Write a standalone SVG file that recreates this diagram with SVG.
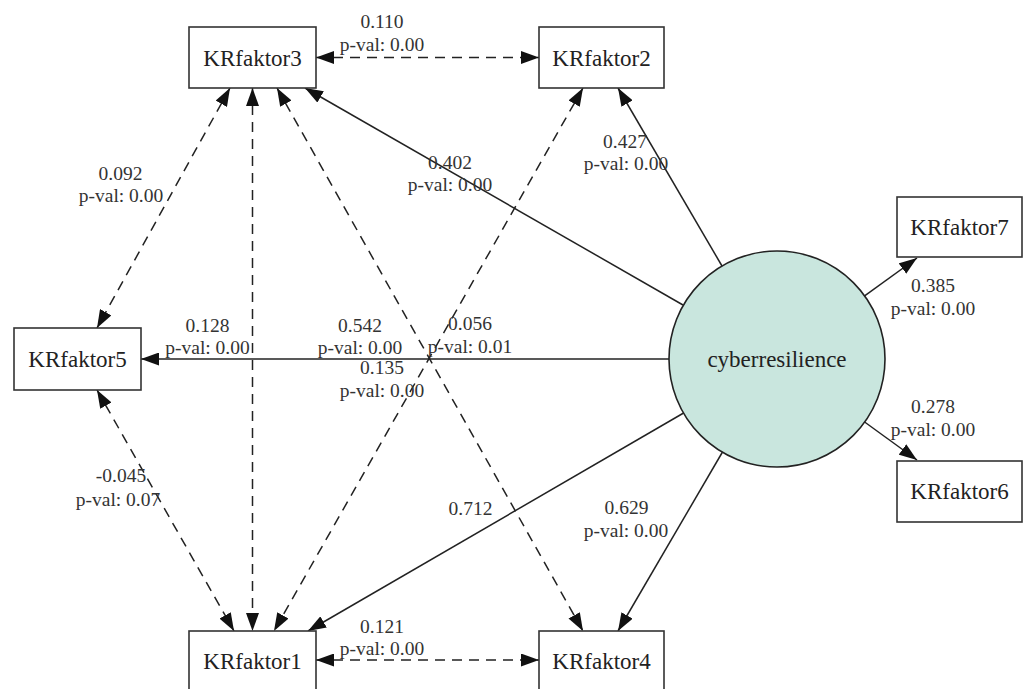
<svg xmlns="http://www.w3.org/2000/svg" width="1024" height="689" viewBox="0 0 1024 689">
<defs>
<style>
.box{fill:#fff;stroke:#333;stroke-width:1.6}
.nt{font-family:"Liberation Serif","Times New Roman",serif;font-size:23px;fill:#222;text-anchor:middle}
.lb{font-family:"Liberation Serif","Times New Roman",serif;font-size:19.5px;fill:#333;text-anchor:middle}
.e{fill:none;stroke:#222;stroke-width:1.5}
.d{stroke-dasharray:10 7;marker-start:url(#ah);}
.e{marker-end:url(#ah)}
</style>
<marker id="ah" viewBox="0 0 18 13" markerWidth="18" markerHeight="13" refX="18" refY="6.5" orient="auto-start-reverse" markerUnits="userSpaceOnUse">
<path d="M0,0 L18,6.5 L0,13 z" fill="#111"/>
</marker>
</defs>
<rect width="1024" height="689" fill="#fff"/>
<g id="connectors">
<line class="e" x1="683" y1="305" x2="305" y2="88"/>
<line class="e" x1="722" y1="266" x2="618" y2="88"/>
<line class="e" x1="669" y1="359" x2="141" y2="359"/>
<line class="e" x1="683.6" y1="413" x2="308" y2="631"/>
<line class="e" x1="722.5" y1="452" x2="618" y2="631"/>
<line class="e" x1="864.6" y1="295.8" x2="917" y2="258"/>
<line class="e" x1="864.6" y1="422" x2="917" y2="460"/>
<line class="e d" x1="316" y1="57.5" x2="539" y2="57.5"/>
<line class="e d" x1="316" y1="660" x2="539" y2="660"/>
<line class="e d" x1="230" y1="88" x2="97" y2="328"/>
<line class="e d" x1="97" y1="390" x2="234" y2="631"/>
<line class="e d" x1="252.5" y1="88" x2="252.5" y2="631"/>
<line class="e d" x1="277" y1="88" x2="583" y2="631"/>
<line class="e d" x1="583" y1="88" x2="274" y2="631"/>
</g>
<g id="labels">
<text class="lb" x="382" y="28">0.110</text><text class="lb" x="382" y="51">p-val: 0.00</text>
<text class="lb" x="625" y="148">0.427</text><text class="lb" x="626" y="170">p-val: 0.00</text>
<text class="lb" x="120.5" y="180">0.092</text><text class="lb" x="121" y="202">p-val: 0.00</text>
<text class="lb" x="450" y="168.5">0.402</text><text class="lb" x="450" y="191">p-val: 0.00</text>
<text class="lb" x="207.5" y="332">0.128</text><text class="lb" x="207.5" y="354">p-val: 0.00</text>
<text class="lb" x="360" y="332">0.542</text><text class="lb" x="360" y="354">p-val: 0.00</text>
<text class="lb" x="470" y="330">0.056</text><text class="lb" x="470" y="353">p-val: 0.01</text>
<text class="lb" x="382" y="374">0.135</text><text class="lb" x="382" y="397">p-val: 0.00</text>
<text class="lb" x="121" y="482">-0.045</text><text class="lb" x="118" y="506">p-val: 0.07</text>
<text class="lb" x="470.5" y="515">0.712</text>
<text class="lb" x="626.5" y="514">0.629</text><text class="lb" x="626" y="537">p-val: 0.00</text>
<text class="lb" x="382" y="633">0.121</text><text class="lb" x="382" y="655">p-val: 0.00</text>
<text class="lb" x="933" y="292">0.385</text><text class="lb" x="933" y="315">p-val: 0.00</text>
<text class="lb" x="933" y="413">0.278</text><text class="lb" x="933" y="436">p-val: 0.00</text>
</g>
<g id="cyberresilience">
<circle cx="777" cy="359" r="108" fill="#c9e6de" stroke="#222" stroke-width="1.6"/>
<text class="nt" x="777" y="366.5">cyberresilience</text>
</g>
<g id="KRfaktor3"><rect class="box" x="189" y="27" width="127" height="61"/><text class="nt" x="252.5" y="65.5">KRfaktor3</text></g>
<g id="KRfaktor2"><rect class="box" x="539" y="27" width="125" height="61"/><text class="nt" x="601.5" y="65.5">KRfaktor2</text></g>
<g id="KRfaktor5"><rect class="box" x="14" y="328" width="127" height="62"/><text class="nt" x="77.5" y="366.5">KRfaktor5</text></g>
<g id="KRfaktor1"><rect class="box" x="189" y="631" width="127" height="61"/><text class="nt" x="252.5" y="669">KRfaktor1</text></g>
<g id="KRfaktor4"><rect class="box" x="539" y="631" width="125" height="61"/><text class="nt" x="601.5" y="669">KRfaktor4</text></g>
<g id="KRfaktor7"><rect class="box" x="897" y="197" width="125" height="60"/><text class="nt" x="959.5" y="234.5">KRfaktor7</text></g>
<g id="KRfaktor6"><rect class="box" x="897" y="461" width="125" height="61"/><text class="nt" x="959.5" y="499">KRfaktor6</text></g>
</svg>
